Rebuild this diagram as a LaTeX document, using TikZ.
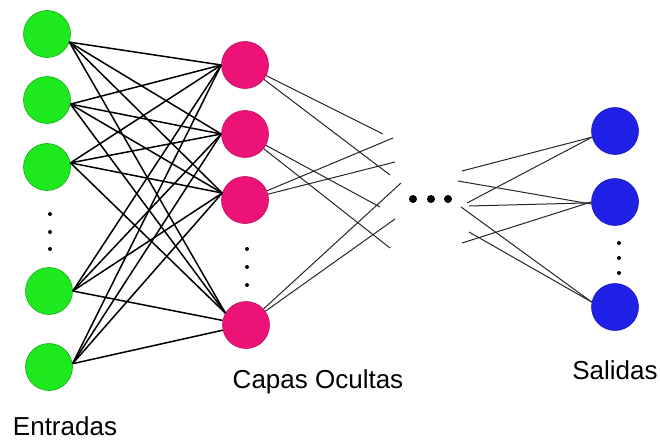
\documentclass[tikz,border=0pt]{standalone}
\usepackage{fontspec}
\setmainfont{Liberation Sans}
\definecolor{ingreen}{RGB}{30,232,30}
\definecolor{hidpink}{RGB}{236,18,120}
\definecolor{outblue}{RGB}{32,32,230}
\begin{document}
\begin{tikzpicture}[x=1pt,y=-1pt,
  neuron/.style={circle,minimum size=47pt,inner sep=0pt},
  inneuron/.style={neuron,fill=ingreen,draw=ingreen!75!black,line width=0.6pt},
  hidneuron/.style={neuron,fill=hidpink,draw=hidpink!80!black,line width=0.6pt},
  outneuron/.style={neuron,fill=outblue,draw=outblue!80!black,line width=0.6pt},
  wire/.style={draw=black,line width=1.5pt},
  thinwire/.style={draw=black!85,line width=1pt},
  smalldot/.style={circle,fill=black,minimum size=4pt,inner sep=0pt},
  bigdot/.style={circle,fill=black,minimum size=8pt,inner sep=0pt},
  lbl/.style={anchor=base,inner sep=0pt,font=\fontsize{26}{26}\selectfont}]
\useasboundingbox (0,0) rectangle (660,441);
% input layer
\node[inneuron] (g1) at (47,34) {};
\node[inneuron] (g2) at (47,100) {};
\node[inneuron] (g3) at (47,167) {};
\node[inneuron] (g4) at (49,291) {};
\node[inneuron] (g5) at (49,367) {};
\node[smalldot] (gd1) at (50,214) {};
\node[smalldot] (gd2) at (50,232) {};
\node[smalldot] (gd3) at (50,249) {};
% hidden layer
\node[hidneuron] (p1) at (245,65) {};
\node[hidneuron] (p2) at (245,134) {};
\node[hidneuron] (p3) at (245,200) {};
\node[hidneuron] (p4) at (246,325) {};
\node[smalldot] (pd1) at (247,249) {};
\node[smalldot] (pd2) at (247,267) {};
\node[smalldot] (pd3) at (247,285) {};
% output layer
\node[outneuron] (b1) at (615,131) {};
\node[outneuron] (b2) at (615,202) {};
\node[outneuron] (b3) at (615,307) {};
\node[smalldot] (bd1) at (619,243) {};
\node[smalldot] (bd2) at (619,258) {};
\node[smalldot] (bd3) at (619,273) {};
% ellipsis
\node[bigdot] (e1) at (413,199) {};
\node[bigdot] (e2) at (431,199) {};
\node[bigdot] (e3) at (448,199) {};
% input -> hidden
\foreach \g/\ga in {g1/-20,g2/-10,g3/10,g4/0,g5/8}{
  \draw[wire] (\g.\ga) -- (p1.180);
  \draw[wire] (\g.\ga) -- (p2.180);
  \draw[wire] (\g.\ga) -- (p3.163);
}
\foreach \g/\ga in {g1/-20,g2/-10,g3/10}{
  \draw[wire] (\g.\ga) -- (p4.150);
}
\draw[wire] (g4.0) -- (p4);
\draw[wire] (g5.8) -- (p4);
% hidden -> dangling ends
\coordinate (h1a) at (383,134);
\coordinate (h1b) at (390,175);
\coordinate (h2a) at (380,207);
\coordinate (h2b) at (390,248);
\coordinate (h3a) at (393,138);
\coordinate (h3b) at (395,162);
\coordinate (h4a) at (401,183);
\coordinate (h4b) at (395,219);
\draw[thinwire] (p1) -- (h1a);
\draw[thinwire] (p1) -- (h1b);
\draw[thinwire] (p2) -- (h2a);
\draw[thinwire] (p2) -- (h2b);
\draw[thinwire] (p3) -- (h3a);
\draw[thinwire] (p3) -- (h3b);
\draw[thinwire] (p4) -- (h4a);
\draw[thinwire] (p4) -- (h4b);
% dangling ends -> output
\coordinate (o1) at (462,171);
\coordinate (o2) at (467,203);
\coordinate (o3) at (458,181);
\coordinate (o4) at (469,206);
\coordinate (o5) at (462,243);
\coordinate (o6) at (461,207);
\coordinate (o7) at (469,232);
\draw[thinwire] (o1) -- (b1.195);
\draw[thinwire] (o2) -- (b1.195);
\draw[thinwire] (o3) -- (b2.185);
\draw[thinwire] (o4) -- (b2.182);
\draw[thinwire] (o5) -- (b2.180);
\draw[thinwire] (o6) -- (b3.168);
\draw[thinwire] (o7) -- (b3.168);
% labels
\node[lbl] (tin) at (65,435) {Entradas};
\node[lbl] (thid) at (318,388) {Capas Ocultas};
\node[lbl] (tout) at (615,379) {Salidas};
\end{tikzpicture}
\end{document}
